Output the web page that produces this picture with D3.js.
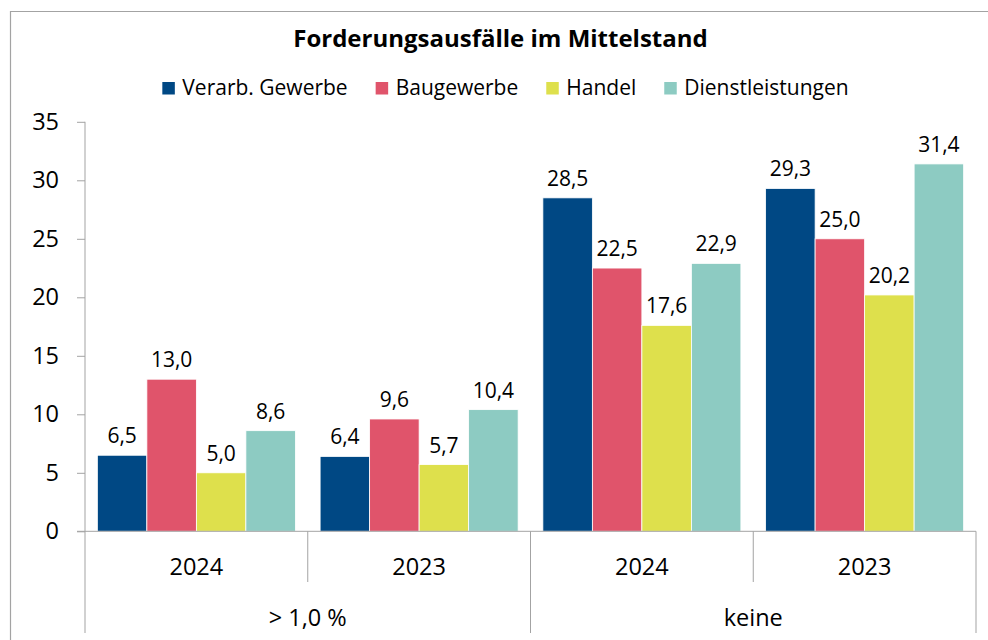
<!DOCTYPE html>
<html>
<head>
<meta charset="utf-8">
<script src="https://cdn.jsdelivr.net/npm/d3@7"></script>
<style>
  html, body { margin: 0; padding: 0; background: #fff; }
  svg { display: block; font-family: "Open Sans", "Noto Sans", sans-serif; }
</style>
</head>
<body>
<svg id="chart" width="988" height="640"></svg>
<script>
// ---- data ----
const title = "Forderungsausfälle im Mittelstand";
const seriesNames = ["Verarb. Gewerbe", "Baugewerbe", "Handel", "Dienstleistungen"];
const seriesColors = ["#004884", "#E0546B", "#DEE04C", "#8DCBC2"];
const groups = ["> 1,0 %", "keine"];
const years = ["2024", "2023"];
// one value per category (group × year), in category order
const verarbGewerbe    = [6.5, 6.4, 28.5, 29.3];
const baugewerbe       = [13.0, 9.6, 22.5, 25.0];
const handel           = [5.0, 5.7, 17.6, 20.2];
const dienstleistungen = [8.6, 10.4, 22.9, 31.4];
const yTicks = [0, 5, 10, 15, 20, 25, 30, 35];

const seriesValues = [verarbGewerbe, baugewerbe, handel, dienstleistungen];
const categories = [];
groups.forEach(g => years.forEach(y => categories.push({group: g, year: y, key: g + "|" + y})));

const svg = d3.select("#chart");
const fmt = v => d3.format(".1f")(v).replace(".", ",");
const gray = "#a3a3a3";

// frame (partial, extends beyond the viewport)
svg.append("path")
  .attr("d", "M10.5,700 V11.5 H1000")
  .attr("fill", "none").attr("stroke", gray).attr("stroke-width", 1.2);

// plot area
const x0 = 85, x1 = 976, yTop = 121.8, yBase = 531.3;
const x = d3.scaleBand().domain(categories.map(d => d.key)).range([x0, x1])
  .paddingInner(0.111).paddingOuter(0.0555);
const xs = d3.scaleBand().domain(seriesNames).range([0, x.bandwidth()]).padding(0);
const y = d3.scaleLinear().domain([0, 35]).range([yBase, yTop]);

// title
svg.append("text").attr("x", 500.5).attr("y", 47)
  .attr("text-anchor", "middle").attr("font-weight", 700).attr("font-size", 24)
  .attr("fill", "#000").text(title);

// legend
const legend = svg.append("g");
let lx = 0;
seriesNames.forEach((name, i) => {
  const g = legend.append("g").attr("transform", `translate(${lx},0)`);
  g.append("rect").attr("x", 0).attr("y", 82).attr("width", 12.5).attr("height", 12.5)
    .attr("fill", seriesColors[i]);
  const t = g.append("text").attr("x", 20).attr("y", 94.5).attr("font-size", 21)
    .attr("fill", "#000").text(name);
  const w = t.node().getComputedTextLength();
  lx += 20 + w + 28;
});
const legendW = lx - 28;
legend.attr("transform", `translate(${505.5 - legendW / 2},0)`);

// y axis
const yAxis = d3.axisLeft(y).tickValues(yTicks).tickSize(8).tickPadding(18).tickFormat(d3.format("d"));
const ya = svg.append("g").attr("transform", `translate(${x0},0)`).call(yAxis);
ya.selectAll(".tick line").attr("stroke", gray);
ya.selectAll(".tick text").attr("font-size", 23.5).attr("fill", "#000")
  .attr("font-family", '"Open Sans", sans-serif');
ya.select(".domain").remove();
svg.append("line").attr("x1", x0).attr("x2", x0).attr("y1", yTop).attr("y2", yBase)
  .attr("stroke", gray);

// bars
const catG = svg.append("g").selectAll("g").data(categories).join("g")
  .attr("transform", d => `translate(${x(d.key)},0)`);
seriesNames.forEach((name, si) => {
  catG.append("rect")
    .attr("x", xs(name)).attr("width", xs.bandwidth())
    .attr("y", (d, ci) => y(seriesValues[si][ci]))
    .attr("height", (d, ci) => yBase - y(seriesValues[si][ci]))
    .attr("fill", seriesColors[si])
    .attr("stroke", "#fff").attr("stroke-width", 0.8);
  catG.append("text")
    .attr("x", xs(name) + xs.bandwidth() / 2)
    .attr("y", (d, ci) => y(seriesValues[si][ci]) - 12)
    .attr("text-anchor", "middle").attr("font-size", 21).attr("fill", "#000")
    .text((d, ci) => fmt(seriesValues[si][ci]));
});

// x axis (baseline + multi-level category dividers)
svg.append("line").attr("x1", x0 - 8).attr("x2", x1).attr("y1", yBase).attr("y2", yBase)
  .attr("stroke", gray);
const step = x.step();
const catEdges = categories.map(d => x(d.key) - x.paddingInner() * step / 2);
catEdges.push(x1);
catEdges.forEach((ex, i) => {
  const isGroupEdge = i % years.length === 0;
  svg.append("line").attr("x1", ex).attr("x2", ex).attr("y1", yBase)
    .attr("y2", isGroupEdge ? 633 : 582).attr("stroke", gray);
});
svg.append("g").selectAll("text").data(categories).join("text")
  .attr("x", d => x(d.key) + x.bandwidth() / 2).attr("y", 575)
  .attr("text-anchor", "middle").attr("font-size", 23.5).attr("fill", "#000")
  .text(d => d.year);
svg.append("g").selectAll("text").data(groups).join("text")
  .attr("x", (g, gi) => (catEdges[gi * years.length] + catEdges[(gi + 1) * years.length]) / 2)
  .attr("y", 626)
  .attr("text-anchor", "middle").attr("font-size", 23.5).attr("fill", "#000")
  .text(g => g);
</script>
</body>
</html>
